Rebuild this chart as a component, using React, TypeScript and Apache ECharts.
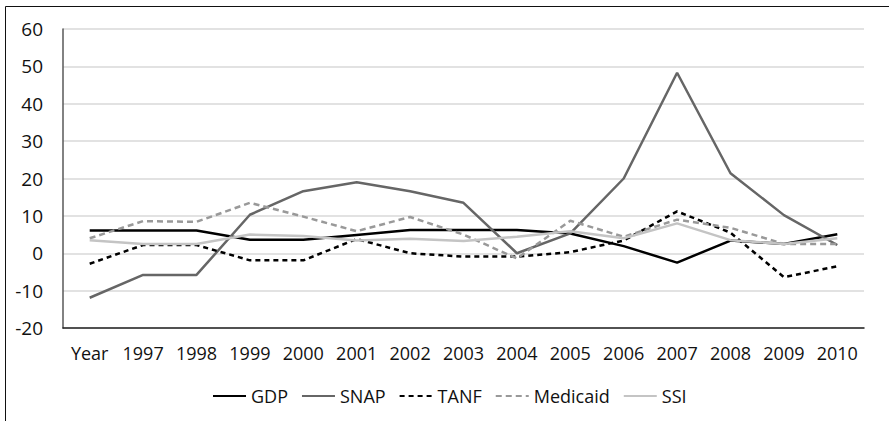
import React, { useEffect, useRef } from "react";
import * as echarts from "echarts";

const categories = ["Year", "1997", "1998", "1999", "2000", "2001", "2002", "2003", "2004", "2005", "2006", "2007", "2008", "2009", "2010"];
const gdp = [6.1, 6.1, 6.1, 3.6, 3.6, 4.9, 6.2, 6.2, 6.2, 5.3, 1.9, -2.5, 3.4, 2.5, 5.1];
const snap = [-11.9, -5.8, -5.8, 10.3, 16.6, 19.0, 16.6, 13.5, 0, 5.3, 20, 48.3, 21.4, 10.2, 2.2];
const tanf = [-2.8, 2.2, 2.2, -1.9, -1.9, 3.8, 0, -0.9, -0.9, 0.3, 3.4, 11.2, 5.5, -6.4, -3.5];
const medicaid = [4.0, 8.6, 8.4, 13.5, 9.8, 5.9, 9.7, 5.0, -1.4, 8.7, 4.4, 9.0, 6.8, 2.5, 2.5];
const ssi = [3.5, 2.5, 2.5, 5.0, 4.6, 3.4, 3.9, 3.3, 4.4, 5.9, 4.0, 8.0, 3.5, 2.5, 4.0];
const yTicks = { min: -20, max: 60, interval: 10 };

const FONT = "'Open Sans', 'Noto Sans', sans-serif";

export default function App() {
  const ref = useRef<HTMLDivElement>(null);
  useEffect(() => {
    if (!ref.current) return;
    const chart = echarts.init(ref.current, undefined, { renderer: "svg" });
    const mk = (name: string, data: number[], color: string, type: any) => ({
      name,
      type: "line",
      data,
      symbol: "none",
      smooth: false,
      lineStyle: { color, width: 2.5, type },
      itemStyle: { color },
    });
    chart.setOption({
      animation: false,
      backgroundColor: "#ffffff",
      textStyle: { fontFamily: FONT },
      grid: { left: 63, top: 29, right: 25, bottom: 93 },
      graphic: [
        {
          type: "rect",
          shape: { x: 5.5, y: 6.5, width: 1000, height: 1000 },
          style: { fill: "none", stroke: "#111", lineWidth: 1 },
          silent: true,
        },
      ],
      legend: {
        left: 207,
        top: 382,
        itemWidth: 33,
        itemHeight: 14,
        itemGap: 13,
        itemStyle: { opacity: 0, borderWidth: 0 },
        textStyle: { fontFamily: FONT, fontSize: 18, color: "#111" },
        data: ["GDP", "SNAP", "TANF", "Medicaid", "SSI"],
      },
      xAxis: {
        type: "category",
        data: categories,
        boundaryGap: true,
        axisLine: { show: true, onZero: false, lineStyle: { color: "#222", width: 1.5 } },
        axisTick: { show: false },
        axisLabel: { fontFamily: FONT, fontSize: 18, color: "#111", margin: 16, interval: 0 },
        splitLine: { show: false },
      },
      yAxis: {
        type: "value",
        min: yTicks.min,
        max: yTicks.max,
        interval: yTicks.interval,
        axisLine: { show: true, lineStyle: { color: "#595959", width: 1.5 } },
        axisTick: { show: false },
        axisLabel: { fontFamily: FONT, fontSize: 19, color: "#111", margin: 20 },
        splitLine: { show: true, lineStyle: { color: "#d9d9d9", width: 1.5 } },
      },
      series: [
        mk("GDP", gdp, "#000000", "solid"),
        mk("SNAP", snap, "#666666", "solid"),
        mk("TANF", tanf, "#000000", [5, 4]),
        mk("Medicaid", medicaid, "#999999", [6, 4]),
        mk("SSI", ssi, "#c4c4c4", "solid"),
      ],
    });
    return () => chart.dispose();
  }, []);
  return (
    <div
      ref={ref}
      style={{ position: "fixed", left: 0, top: 0, width: 889, height: 421, background: "#fff" }}
    />
  );
}
